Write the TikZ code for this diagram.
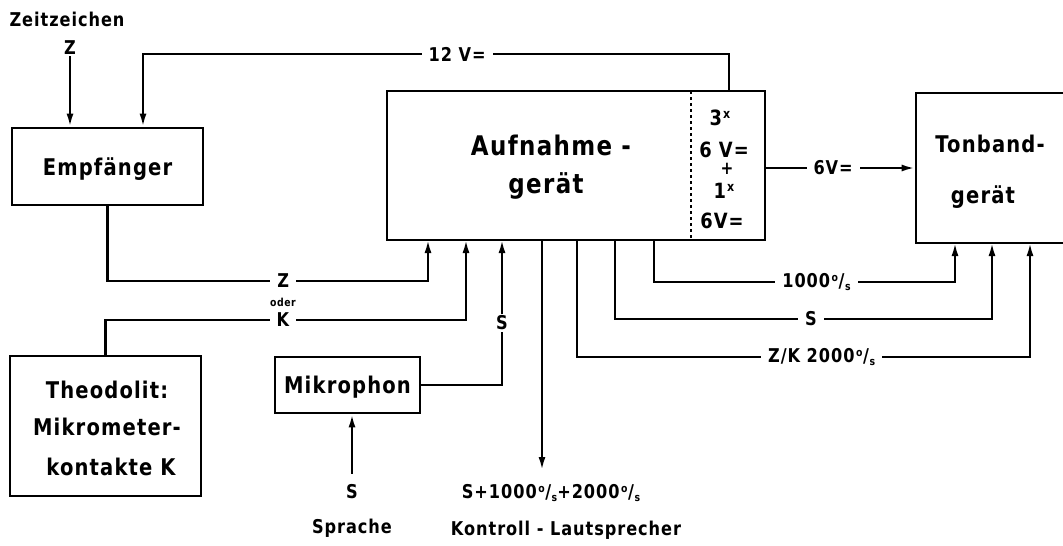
\documentclass[tikz,border=0pt]{standalone}
\usepackage{fontspec}
\setmainfont{DejaVu Sans}[FakeStretch=0.85, LetterSpace=5]
\usetikzlibrary{arrows.meta, positioning}

\newcommand{\hzs}{{\kern.08em\raisebox{.55ex}{\fontsize{11}{11}\selectfont o}\kern.03em/\kern.03em\raisebox{-.25ex}{\fontsize{11}{11}\selectfont s}}}
\newcommand{\mal}{\kern.05em\raisebox{.55ex}{\fontsize{13}{13}\selectfont x}}

\begin{document}
\begin{tikzpicture}[
    x=1pt, y=-1pt,
    box/.style={
        draw, rectangle, line width=2.8pt, inner sep=0pt, text depth=0pt,
        align=center, font=\fontsize{23}{28}\selectfont\bfseries
    },
    intxt/.style={inner sep=0pt, anchor=base, font=\fontsize{23}{28}\selectfont\bfseries},
    txt/.style={inner sep=1pt, align=center, font=\fontsize{19}{22}\selectfont\bfseries},
    lbl/.style={txt, fill=white, inner xsep=7pt, inner ysep=2pt},
    arr/.style={-{Latex[length=13pt, width=7pt]}, line width=2.2pt}
]
\useasboundingbox (0,0) rectangle (1063,546);
\clip (0,0) rectangle (1063,546);

% Bloecke
\node[box, minimum width=191pt, minimum height=77pt]  (emp)  at (107.5,166.5) {Empf\"anger};
\node[box, minimum width=378pt, minimum height=149pt] (auf)  at (576,165.5) {};
\node[box, minimum width=160pt, minimum height=150pt] (ton)  at (996,168) {};
\node[box, minimum width=191pt, minimum height=140pt] (theo) at (105.5,426) {};
\node[box, minimum width=145pt, minimum height=56pt]  (mik)  at (347.5,385) {Mikrophon};

% Beschriftung in den Bloecken
\node[intxt, font=\fontsize{27}{30}\selectfont\bfseries] (auf1) at (551,155) {Aufnahme -};
\node[intxt, font=\fontsize{27}{30}\selectfont\bfseries] (auf2) at (546,193) {ger\"at};
\node[intxt] (ton1) at (990,152) {Tonband-};
\node[intxt] (ton2) at (983,203) {ger\"at};
\foreach \xx/\yy/\tx [count=\i] in {107/398/Theodolit:, 107/435/Mikrometer-, 111/475/kontakte K}
    \node[intxt] (th\i) at (\xx,\yy) {\tx};
\draw[dashed, line width=1.6pt] (691,91) -- (691,240);
\foreach \xx/\yy/\tx [count=\i] in {720/125/3\mal, 724/157/6 V=, 724/198/1\mal, 722/228/6V=}
    \node[intxt, font=\fontsize{21}{24}\selectfont\bfseries] (bat\i) at (\xx,\yy) {\tx};
\node[intxt, font=\fontsize{18}{20}\selectfont\bfseries] (batplus) at (727,174) {+};

% Anschluesse
\coordinate (a1) at (428,240);
\coordinate (a2) at (466,240);
\coordinate (a3) at (502,240);
\coordinate (o1) at (542,240);
\coordinate (o2) at (577,240);
\coordinate (o3) at (615,240);
\coordinate (o4) at (654,240);
\coordinate (t1) at (955,243);
\coordinate (t2) at (992,243);
\coordinate (t3) at (1030,243);
\coordinate (c12) at (729,54);
\coordinate (e12) at (143,54);
\coordinate (zc) at (428,281);
\coordinate (kc) at (466,320);
\coordinate (kspk) at (542,470);

% Texte
\node[txt] (zz)  at (67,19)  {Zeitzeichen};
\node[txt] (zin) at (70,48)  {Z};
\node[txt] (sin) at (352,492) {S};
\node[txt] (spr) at (352,528) {Sprache};
\node[txt] (kon1) at (551,493) {S+1000\hzs+2000\hzs};
\node[txt] (kon2) at (566,530) {Kontroll - Lautsprecher};
\node[txt, font=\fontsize{11}{11}\selectfont\bfseries] (oder) at (283,302) {oder};

% Verbindungen
\draw[arr] (zin) -- (zin |- emp.north);
\draw[arr] (c12 |- auf.north) -- (c12) -- node[lbl, pos=.464]{12 V=} (e12) -- (e12 |- emp.north);
\draw[arr] (ton.west -| auf.east) -- node[lbl, pos=.45]{6V=} (ton.west);
\draw[arr] (emp.south) |- node[lbl, pos=.774]{Z} (zc) -- (a1);
\draw[arr] (theo.north) |- node[lbl, pos=.746]{K} (kc) -- (a2);
\draw[arr] (mik.east) -| node[lbl, pos=.714]{S} (a3);
\draw[arr] ([yshift=10pt]sin.north) -- (sin |- mik.south);
\draw[arr] (o1) -- (kspk);
\draw[arr] (o4) -- ++(0,42) -| node[lbl, pos=.27]{1000\hzs} (t1);
\draw[arr] (o3) -- ++(0,79) -| node[lbl, pos=.26]{S} (t2);
\draw[arr] (o2) -- ++(0,117) -| node[lbl, pos=.27]{Z/K 2000\hzs} (t3);

\end{tikzpicture}
\end{document}
